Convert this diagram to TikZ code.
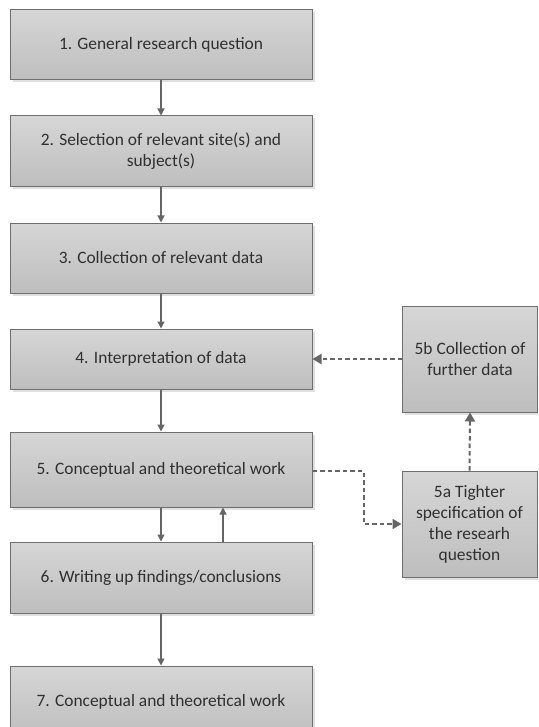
\documentclass[tikz,border=0pt]{standalone}
\usepackage{fontspec}
\setmainfont{Carlito}
\usetikzlibrary{arrows.meta,shadows}
\definecolor{boxline}{HTML}{6E6E6E}
\definecolor{boxtop}{HTML}{D6D6D6}
\definecolor{boxbot}{HTML}{BEBEBE}
\definecolor{boxtext}{HTML}{303030}
\definecolor{linkcol}{HTML}{666666}
\tikzset{
  stage/.style={draw=boxline, line width=1pt, top color=boxtop, bottom color=boxbot,
    text=boxtext, align=center, inner sep=0pt,
    font=\fontsize{17.4}{21}\selectfont,
    drop shadow={shadow xshift=2.5pt, shadow yshift=-2.5pt, fill=black!12, opacity=1}},
  mainstage/.style={stage, minimum width=302pt},
  sidestage/.style={stage, minimum width=135pt, minimum height=106pt},
  flow/.style={draw=linkcol, line width=1.3pt, -{Triangle[length=7pt,width=7pt]}},
  loopback/.style={draw=linkcol, line width=2pt, dash pattern=on 4.5pt off 3pt,
    -{Triangle[length=9pt,width=10pt]}}
}
\begin{document}
\begin{tikzpicture}[x=1pt,y=-1pt]
\clip (0,0) rectangle (538,727);
\fill[white] (0,0) rectangle (538,727);

\node[mainstage, minimum height=70pt] (s1) at (161,45) {1. General research question};
\node[mainstage, minimum height=71pt] (s2) at (161,151.5) {2. Selection of relevant site(s) and\\subject(s)};
\node[mainstage, minimum height=70pt] (s3) at (161,258) {3. Collection of relevant data};
\node[mainstage, minimum height=60pt] (s4) at (161,359) {4. Interpretation of data};
\node[mainstage, minimum height=75pt] (s5) at (161,469.5) {5. Conceptual and theoretical work};
\node[mainstage, minimum height=71pt] (s6) at (161,577.5) {6. Writing up findings/conclusions};
\node[mainstage, minimum height=71pt] (s7) at (161,701.5) {7. Conceptual and theoretical work};

\node[sidestage] (s5b) at (470,359) {5b Collection of\\further data};
\node[sidestage] (s5a) at (469.5,524) {5a Tighter\\specification of\\the researh\\question};

\draw[flow] (s1) -- (s2);
\draw[flow] (s2) -- (s3);
\draw[flow] (s3) -- (s4);
\draw[flow] (s4) -- (s5);
\draw[flow] (s5) -- (s6);
\draw[flow] ([xshift=62pt]s6.north) -- ([xshift=62pt]s5.south);
\draw[flow] (s6) -- (s7);

\draw[loopback] ([yshift=-1.5pt]s5.east) -- ++(51,0) |- (s5a.west);
\draw[loopback] (s5a.north) -- (s5b.south);
\draw[loopback] (s5b.west) -- (s4.east);
\end{tikzpicture}
\end{document}
